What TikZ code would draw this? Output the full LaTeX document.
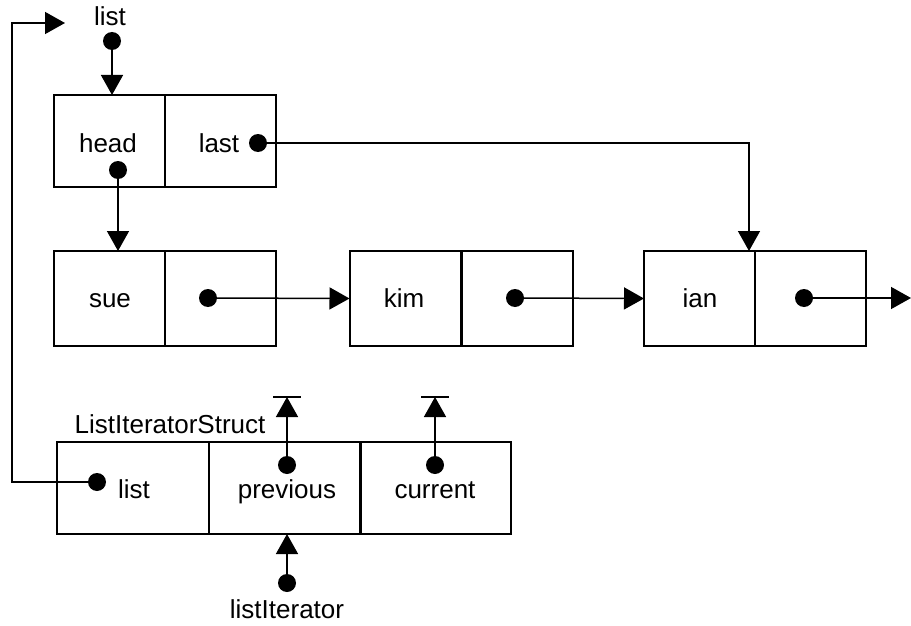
\documentclass[tikz,border=0pt]{standalone}
\usepackage{fontspec}
\setmainfont{Liberation Sans}
\usetikzlibrary{arrows.meta}
\begin{document}
\begin{tikzpicture}[x=1pt,y=-1pt,
  every node/.style={font=\fontsize{26pt}{30pt}\selectfont},
  cell/.style={draw, line width=2pt, inner sep=0pt, outer sep=0pt},
  hcell/.style={cell, minimum width=111pt, minimum height=92pt},
  ncell/.style={cell, minimum width=111pt, minimum height=95pt},
  icell/.style={cell, minimum width=152pt, minimum height=92pt},
  lbl/.style={anchor=base, inner sep=0pt},
  dot/.style={circle, fill=black, inner sep=0pt, minimum size=18pt},
  conn/.style={line width=1.5pt},
  arr/.style={conn, -{Triangle[length=20pt,width=22pt]}}]
\useasboundingbox (0,0) rectangle (911,626);

% list header record
\node[hcell] (hhead) at (109.5,141) {};
\node[hcell] (hlast) at (220.5,141) {};
\node[lbl] at (108,152) {head};
\node[lbl] at (219,152) {last};

% linked nodes
\node[ncell] (sue1) at (109.5,298.5) {};
\node[ncell] (sue2) at (220.5,298.5) {};
\node[ncell] (kim1) at (405,298.5) {};
\node[ncell] (kim2) at (517,298.5) {};
\node[ncell] (ian1) at (699.5,298.5) {};
\node[ncell] (ian2) at (810.5,298.5) {};
\node[lbl] at (110,307) {sue};
\node[lbl] at (404,307) {kim};
\node[lbl] at (700,307) {ian};

% iterator record
\node[icell] (itlist) at (133,488) {};
\node[icell] (itprev) at (284.5,488) {};
\node[icell, minimum width=151pt] (itcur) at (435.5,488) {};
\node[lbl] at (170,433) {ListIteratorStruct};
\node[lbl] at (134,498) {list};
\node[lbl] at (287,498) {previous};
\node[lbl] at (435,498) {current};

% external pointer variables
\node[lbl] (listlbl) at (110,26) {list};
\node[lbl] (itlbl) at (287,618) {listIterator};

% pointer dots
\node[dot] (listdot) at (112,41) {};
\node[dot] (headdot) at (118,170) {};
\node[dot] (lastdot) at (258,143) {};
\node[dot] (suedot) at (208,298) {};
\node[dot] (kimdot) at (515,298) {};
\node[dot] (iandot) at (804,298) {};
\node[dot] (itlistdot) at (97,482) {};
\node[dot] (prevdot) at (287,465) {};
\node[dot] (curdot) at (435,465) {};
\node[dot] (itdot) at (287,583) {};

% bends and free ends
\coordinate (lastbend) at (749,143);
\coordinate (nilend) at (911,298);
\coordinate (loopbot) at (12,482);
\coordinate (looptop) at (12,23);
\coordinate (loopend) at (65,23);
\coordinate (prevnull) at (287,397);
\coordinate (curnull) at (435,397);

% connectors
\draw[arr] (listdot.center) -- (listdot |- hhead.north);
\draw[arr] (headdot.center) -- (headdot |- sue1.north);
\draw[arr] (lastdot.center) -- (lastbend) -- (lastbend |- ian1.north);
\draw[arr] (suedot.center) -- (kim1.west);
\draw[arr] (kimdot.center) -- (ian1.west);
\draw[arr] (iandot.center) -- (nilend);
\draw[arr] (itlistdot.center) -- (loopbot) -- (looptop) -- (loopend);
\draw[arr] (prevdot.center) -- (prevnull);
\draw[arr] (curdot.center) -- (curnull);
\draw[conn] (prevnull) ++(-14,0) -- ++(28,0);
\draw[conn] (curnull) ++(-14,0) -- ++(28,0);
\draw[arr] (itdot.center) -- (itdot |- itprev.south);
\end{tikzpicture}
\end{document}
